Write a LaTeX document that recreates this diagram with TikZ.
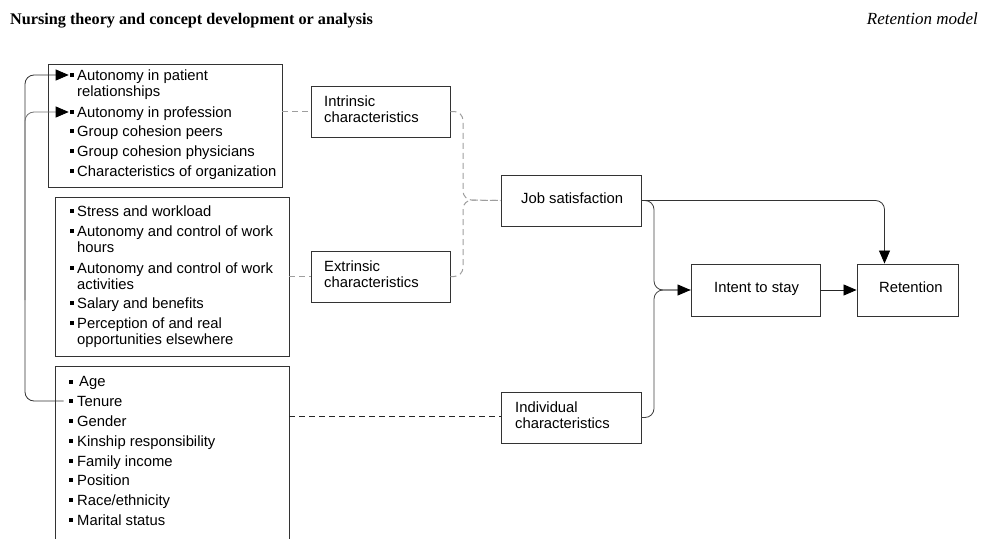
\documentclass[tikz,border=0pt]{standalone}
\usepackage{fontspec}
\setmainfont{Liberation Sans}
\newfontfamily\hdrfont{Liberation Serif}
\usetikzlibrary{arrows.meta}
\begin{document}
\begin{tikzpicture}[x=1pt,y=-1pt,
  boxline/.style={draw=black!80,line width=0.9pt},
  cbox/.style={boxline,minimum width=#1,minimum height=51pt,inner sep=0pt},
  itm/.style={anchor=base west,inner sep=0pt,font=\fontsize{14.8}{16}\selectfont},
  bul/.style={fill=black,rectangle,minimum size=4.2pt,inner sep=0pt},
  gdash/.style={draw=black!38,line width=1pt,dash pattern=on 6pt off 4pt},
  ddash/.style={draw=black!85,line width=0.8pt,dash pattern=on 6pt off 4pt},
  conn/.style={draw=black!75,line width=0.8pt,rounded corners=9pt},
  tip/.style={-{Triangle[length=13pt,width=11pt,color=black]}}
]
\useasboundingbox (0,0) rectangle (982,538);
% header
\node[anchor=base west,inner sep=0pt,font=\hdrfont\bfseries\fontsize{16.2}{18}\selectfont] (hdl) at (10,24) {Nursing theory and concept development or analysis};
\node[anchor=base east,inner sep=0pt,font=\hdrfont\itshape\fontsize{17}{18}\selectfont] (hdr) at (978,24) {Retention model};

% list boxes
\draw[boxline] (48,64) rectangle (282,187);
\draw[boxline] (55,197) rectangle (289,356);
\draw[boxline] (55,540) -- (55,366) -- (289,366) -- (289,540);
\coordinate (l1e) at (282,111);
\coordinate (l2e) at (289,276);
\coordinate (l3e) at (289,416);

% box 1 items
\node[bul] (b11) at (72,75) {};
\node[itm] (t11) at (77,80) {Autonomy in patient};
\node[itm] (t11b) at (77,96) {relationships};
\node[bul] (b12) at (72,112) {};
\node[itm] (t12) at (77,117) {Autonomy in profession};
\node[bul] (b13) at (72,131) {};
\node[itm] (t13) at (77,136) {Group cohesion peers};
\node[bul] (b14) at (72,151) {};
\node[itm] (t14) at (77,156) {Group cohesion physicians};
\node[bul] (b15) at (72,171) {};
\node[itm] (t15) at (77,176) {Characteristics of organization};

% box 2 items
\node[bul] (b21) at (72,211) {};
\node[itm] (t21) at (77,216) {Stress and workload};
\node[bul] (b22) at (72,231) {};
\node[itm] (t22) at (77,236) {Autonomy and control of work};
\node[itm] (t22b) at (77,252) {hours};
\node[bul] (b23) at (72,268) {};
\node[itm] (t23) at (77,273) {Autonomy and control of work};
\node[itm] (t23b) at (77,289) {activities};
\node[bul] (b24) at (72,303) {};
\node[itm] (t24) at (77,308) {Salary and benefits};
\node[bul] (b25) at (72,323) {};
\node[itm] (t25) at (77,328) {Perception of and real};
\node[itm] (t25b) at (77,344) {opportunities elsewhere};

% box 3 items
\node[bul] (b31) at (71,382) {};
\node[itm] (t31) at (79,386) {Age};
\node[bul] (b32) at (71,401) {};
\node[itm] (t32) at (77,406) {Tenure};
\node[bul] (b33) at (71,421) {};
\node[itm] (t33) at (77,426) {Gender};
\node[bul] (b34) at (71,441) {};
\node[itm] (t34) at (77,446) {Kinship responsibility};
\node[bul] (b35) at (71,461) {};
\node[itm] (t35) at (77,466) {Family income};
\node[bul] (b36) at (71,480) {};
\node[itm] (t36) at (77,485) {Position};
\node[bul] (b37) at (71,500) {};
\node[itm] (t37) at (77,505) {Race/ethnicity};
\node[bul] (b38) at (71,520) {};
\node[itm] (t38) at (77,525) {Marital status};

% concept boxes
\node[cbox=139pt] (intr) at (380.5,111.5) {};
\node[itm] (intr1) at (324,106) {Intrinsic};
\node[itm] (intr2) at (324,122) {characteristics};
\node[cbox=139pt] (extr) at (380.5,276.5) {};
\node[itm] (extr1) at (324,271) {Extrinsic};
\node[itm] (extr2) at (324,287) {characteristics};
\node[cbox=140pt] (js) at (571,200.5) {};
\node[itm] (js1) at (521,203) {Job satisfaction};
\node[cbox=140pt] (ind) at (571,417.5) {};
\node[itm] (ind1) at (515,412) {Individual};
\node[itm] (ind2) at (515,428) {characteristics};
\node[cbox=129pt,minimum height=52pt] (int) at (755.5,290) {};
\node[itm] (int1) at (714,292.5) {Intent to stay};
\node[cbox=101pt,minimum height=52pt] (ret) at (907.5,290) {};
\node[itm] (ret1) at (879,292.5) {Retention};

% dashed links
\draw[gdash] (l1e) -- (intr.west |- l1e);
\draw[gdash] (l2e) -- (extr.west |- l2e);
\draw[ddash] (l3e) -- (ind.west |- l3e);

% merge into job satisfaction
\coordinate (mx1) at (463,200);
\draw[gdash,rounded corners=9pt] (intr.east) -- (intr.east -| mx1) -- (mx1) -- (js.west);
\draw[gdash,rounded corners=9pt] (extr.east) -- (extr.east -| mx1) -- (mx1) -- (js.west);

% merge into intent to stay
\coordinate (mx2) at (654,290);
\draw[conn] (js.east) -- (js.east -| mx2) -- (mx2) -- (int.west);
\draw[conn,tip] (ind.east) -- (ind.east -| mx2) -- (mx2) -- (int.west);

% job satisfaction to retention
\draw[conn,tip,draw=black!80] (js.east) -| ([xshift=-23pt]ret.north);
\draw[conn,tip,draw=black!85] (int.east) -- (ret.west);

% feedback from tenure
\coordinate (fx) at (25,300);
\draw[conn,tip,draw=black!80] ([xshift=-5pt]b32.west) -- (b32.west -| fx) -- (b11.west -| fx) -- ([xshift=-1pt]b11.west);
\draw[conn,tip,draw=black!55] (fx) -- (b12.west -| fx) -- ([xshift=-1pt]b12.west);
\end{tikzpicture}
\end{document}
